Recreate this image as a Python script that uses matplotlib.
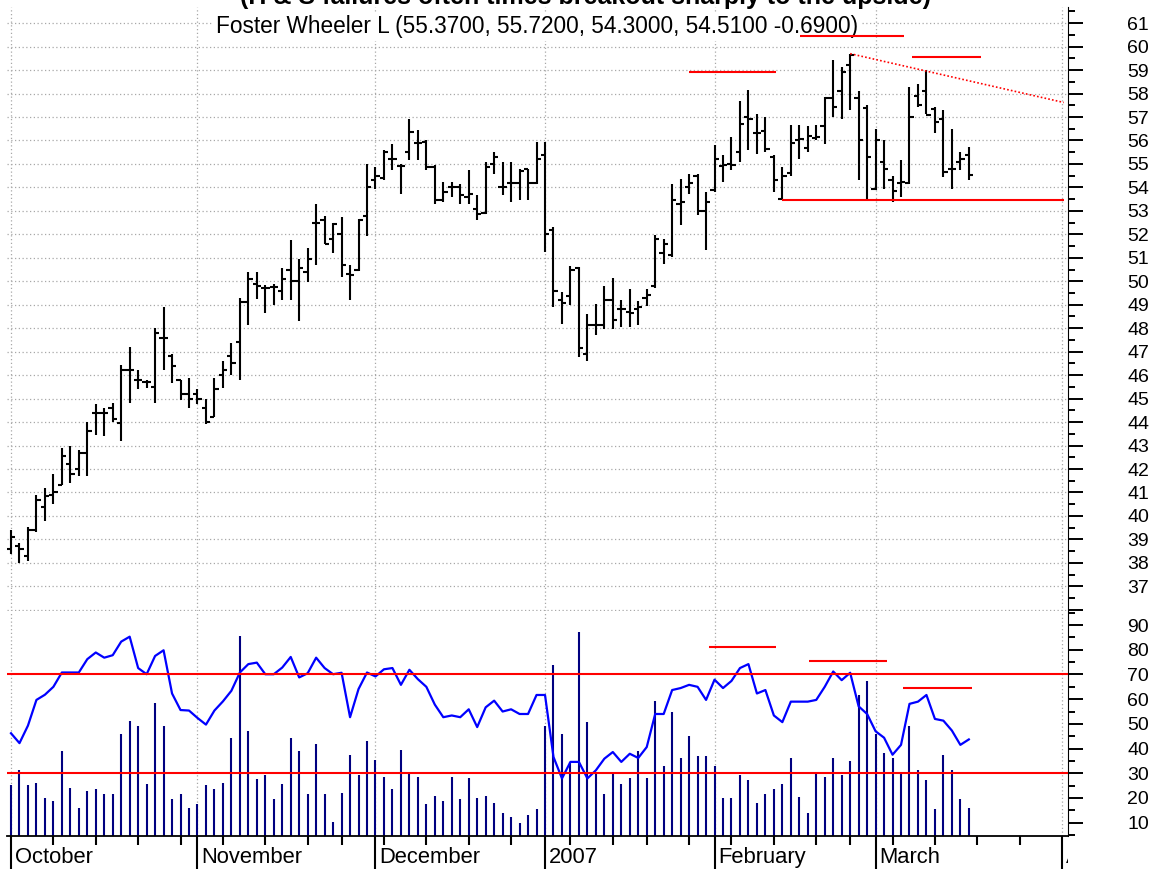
import numpy as np
import pandas as pd
import matplotlib
matplotlib.use("Agg")
import matplotlib.pyplot as plt
from matplotlib.collections import LineCollection
from matplotlib.transforms import (blended_transform_factory, ScaledTranslation,
                                   Bbox, TransformedBbox)
from matplotlib.ticker import FixedLocator, FuncFormatter

plt.rcParams['font.family'] = ['Liberation Sans', 'DejaVu Sans']

# ---------------- data ----------------
title = "(H & S failures often times breakout sharply to the upside)"
subtitle = "Foster Wheeler L (55.3700, 55.7200, 54.3000, 54.5100 -0.6900)"

start_date = "2006-10-02"
end_date = "2007-04-30"
holidays = ["2006-11-23", "2006-12-25", "2007-01-01", "2007-01-02",
            "2007-01-15", "2007-02-19"]

opens = [38.6, 38.7, 38.3, 39.4, 40.4, 40.9, 41.3, 42.2, 42.0, 42.7,
         44.4, 44.4, 44.6, 43.95, 46.2, 45.8, 45.7, 45.5, 47.6, 46.8,
         45.8, 45.2, 45.2, 44.6, 44.2, 46.0, 46.8, 47.4, 49.1, 49.9,
         49.7, 49.75, 49.6, 50.5, 50.0, 50.4, 52.5, 52.6, 51.8, 52.0,
         50.3, 50.5, 52.8, 54.3, 54.4, 55.2, 54.9, 55.5, 55.9, 55.93,
         54.87, 53.45, 54.0, 54.0, 53.6, 53.1, 52.9, 55.0, 54.0, 54.2,
         54.2, 54.8, 54.2, 55.4, 52.2, 49.2, 49.38, 50.55, 46.9, 48.15,
         48.15, 49.2, 48.8, 48.7, 48.8, 49.3, 49.8, 51.2, 51.1, 53.3,
         54.0, 54.5, 53.0, 53.9, 54.9, 55.0, 55.5, 57.0, 56.3, 56.4,
         55.3, 53.5, 54.6, 56.0, 55.7, 56.1, 56.6, 57.8, 58.1, 59.2,
         57.8, 57.4, 53.95, 55.1, 54.3, 54.2, 54.2, 57.9, 58.1, 57.35,
         56.93, 54.8, 55.1, 55.37]
highs = [39.4, 38.85, 39.55, 40.9, 41.2, 41.8, 42.9, 43.0, 42.8, 44.0,
         44.75, 44.6, 44.8, 46.45, 47.2, 46.2, 45.8, 48.0, 48.9, 46.9,
         45.8, 45.9, 45.4, 45.0, 45.9, 46.6, 47.35, 49.3, 50.4, 50.4,
         49.85, 49.9, 50.55, 51.75, 50.95, 51.4, 53.3, 52.8, 52.5, 52.75,
         50.7, 52.65, 55.0, 54.85, 55.6, 55.85, 55.0, 56.93, 56.45, 56.0,
         54.94, 54.23, 54.23, 54.16, 54.73, 53.66, 55.08, 55.51, 55.08, 55.08,
         54.8, 54.8, 55.93, 55.93, 52.3, 49.54, 50.67, 50.6, 48.6, 49.05,
         49.8, 50.14, 49.19, 49.66, 49.15, 49.68, 51.96, 51.82, 54.16, 54.37,
         54.58, 54.58, 53.8, 55.79, 55.37, 56.15, 57.7, 58.15, 57.14, 57.0,
         55.37, 54.87, 56.64, 56.64, 56.6, 56.64, 57.85, 59.41, 59.13, 59.7,
         58.13, 57.5, 56.5, 56.0, 54.5, 55.15, 58.28, 58.42, 58.99, 57.42,
         57.28, 56.5, 55.5, 55.72]
lows = [38.4, 38.0, 38.1, 39.3, 39.8, 40.5, 41.3, 41.4, 41.7, 41.7,
        43.45, 43.4, 44.0, 43.2, 44.8, 45.4, 45.45, 44.8, 46.2, 45.65,
        44.95, 44.6, 44.75, 43.9, 44.2, 45.45, 46.0, 45.8, 48.15, 49.25,
        48.65, 49.0, 49.2, 49.2, 48.3, 49.95, 50.7, 51.6, 51.2, 50.2,
        49.2, 50.45, 51.95, 53.95, 54.3, 54.75, 53.7, 55.15, 55.15, 54.73,
        53.31, 53.38, 53.59, 53.31, 53.31, 52.6, 52.88, 54.58, 53.66, 53.38,
        53.45, 53.45, 54.16, 51.25, 48.9, 48.17, 48.97, 46.76, 46.6, 47.7,
        47.98, 47.95, 48.05, 48.05, 48.15, 48.94, 49.73, 50.75, 51.03, 52.38,
        53.73, 52.81, 51.32, 53.8, 54.23, 54.73, 55.1, 55.6, 55.44, 55.5,
        53.8, 53.45, 54.5, 55.22, 55.5, 56.0, 55.86, 57.0, 56.93, 57.28,
        54.3, 53.48, 53.9, 53.95, 53.38, 53.59, 54.16, 57.42, 57.14, 56.32,
        54.44, 53.95, 54.73, 54.30]
closes = [39.1, 38.6, 39.4, 40.7, 40.85, 41.0, 42.55, 41.8, 42.7, 43.6,
          44.4, 44.4, 44.15, 46.2, 46.2, 45.8, 45.7, 47.8, 47.6, 46.4,
          45.2, 45.0, 45.0, 44.0, 45.4, 46.2, 46.5, 49.1, 50.1, 49.8,
          49.7, 49.75, 50.1, 50.0, 50.55, 50.95, 52.5, 51.6, 52.45, 50.7,
          50.25, 52.6, 54.0, 54.5, 55.5, 55.2, 54.9, 56.36, 55.9, 54.87,
          53.48, 53.8, 54.0, 53.66, 53.73, 52.88, 54.87, 55.3, 54.0, 54.2,
          54.7, 54.2, 55.2, 52.0, 49.6, 49.06, 50.46, 47.15, 48.15, 48.15,
          49.2, 48.36, 48.8, 48.65, 48.9, 49.43, 51.8, 51.6, 53.48, 53.4,
          54.2, 53.0, 53.38, 55.2, 54.95, 54.95, 56.7, 56.9, 56.3, 55.65,
          54.3, 54.5, 55.9, 56.07, 56.2, 56.15, 57.8, 57.42, 58.9, 59.63,
          56.0, 55.3, 56.0, 54.8, 53.85, 54.23, 57.0, 57.5, 57.07, 56.78,
          54.66, 54.8, 55.2, 54.51]

indicator = [46.2, 42.2, 49.3, 59.7, 61.8, 65.0, 70.8, 70.8, 70.8, 76.2,
             78.9, 76.8, 77.8, 83.3, 85.3, 72.6, 70.1, 77.5, 79.8, 62.3,
             55.6, 55.4, 52.4, 49.7, 55.4, 59.1, 63.4, 70.8, 74.2, 74.8,
             70.1, 70.1, 72.8, 77.1, 68.8, 70.5, 76.8, 72.6, 70.1, 70.7,
             52.7, 64.1, 70.8, 69.2, 72.1, 72.6, 65.8, 71.9, 68.1, 65.0,
             57.8, 52.7, 53.4, 52.7, 55.9, 48.7, 56.7, 59.4, 55.0, 55.9,
             54.0, 54.0, 61.7, 61.7, 36.6, 27.9, 34.6, 34.6, 27.9, 31.2,
             35.9, 38.6, 34.6, 37.9, 36.2, 40.6, 54.0, 54.0, 63.7, 64.5,
             65.8, 65.0, 59.7, 67.9, 64.5, 67.4, 72.6, 74.2, 62.3, 63.7,
             53.4, 50.7, 59.0, 59.0, 59.0, 59.7, 65.0, 71.2, 67.7, 70.7,
             57.1, 54.0, 47.0, 44.4, 37.5, 41.5, 58.1, 59.0, 61.7, 52.0,
             51.3, 47.3, 41.5, 43.7]

volume = [25.2, 31.2, 25.2, 26.2, 20.1, 18.7, 38.9, 24.2, 16.0, 22.9,
          23.6, 21.5, 21.5, 46.0, 51.3, 49.3, 25.8, 58.3, 49.3, 19.4,
          21.5, 16.0, 17.4, 25.2, 23.6, 26.2, 44.4, 85.6, 47.3, 27.6,
          29.2, 19.4, 25.8, 44.4, 38.9, 21.5, 41.7, 21.5, 10.4, 22.1,
          37.5, 29.2, 43.0, 35.2, 28.5, 23.6, 39.5, 29.9, 28.5, 17.4,
          20.9, 18.9, 28.5, 19.5, 27.9, 20.1, 20.9, 18.1, 14.0, 12.4,
          9.7, 13.1, 15.4, 49.3, 73.8, 46.0, 34.6, 87.3, 50.7, 30.5,
          21.5, 30.5, 25.8, 27.9, 38.9, 27.9, 59.1, 32.8, 55.0, 36.3,
          45.2, 36.8, 36.8, 32.8, 20.1, 20.1, 29.2, 27.2, 18.1, 21.5,
          23.6, 25.8, 36.2, 20.2, 14.0, 29.9, 28.5, 36.2, 29.2, 34.8,
          61.8, 67.4, 45.7, 38.2, 36.2, 29.9, 49.3, 31.2, 27.2, 15.4,
          37.5, 31.2, 19.5, 16.0]

# annotation lines (start bar, end bar, level)
price_marks = [(80.0, 90.2, 58.9), (93.1, 105.3, 60.45), (106.3, 114.4, 59.55)]
neckline = (91.0, 124.2, 53.47)
trend_start = (99.0, 59.7)
trend_end = (124.2, 57.62)
osc_marks = [(82.3, 90.2, 81.1), (94.2, 103.3, 75.5), (105.2, 113.4, 64.5)]
osc_levels = [70, 30]

# ---------------- calendar ----------------
bdays = pd.bdate_range(start_date, end_date)
days = bdays[~bdays.isin(pd.to_datetime(holidays))]
n = len(closes)
idx = np.arange(n)
xmin, xmax = -0.472, 124.7

month_idx, month_lbl, week_idx = [], [], []
for i, d in enumerate(days):
    if i > xmax:
        break
    if i == 0 or d.month != days[i - 1].month:
        month_idx.append(i)
        month_lbl.append(str(d.year) if d.month == 1 else d.strftime("%B"))
    elif d.isocalendar()[1] != days[i - 1].isocalendar()[1]:
        week_idx.append(i)

# ---------------- figure ----------------
W, H = 1166, 869
fig = plt.figure(figsize=(W / 100, H / 100), dpi=100)
left_px, right_px = 7, 1068
ax1 = fig.add_axes([left_px / W, 1 - 611 / H, (right_px - left_px) / W, (611 - 6.5) / H])
ax2 = fig.add_axes([left_px / W, 1 - 836 / H, (right_px - left_px) / W, (836 - 611) / H])

grid_kw = dict(color='#a8a8a8', linestyle=(0, (1, 2)), linewidth=0.9)

# --- price panel ---
seg_v = [[(i, lows[i]), (i, highs[i])] for i in idx]
seg_o = [[(i - 0.5, opens[i]), (i, opens[i])] for i in idx]
seg_c = [[(i, closes[i]), (i + 0.5, closes[i])] for i in idx]
lc = LineCollection(seg_v + seg_o + seg_c, colors='black', linewidths=1.5,
                    capstyle='butt', zorder=3)
ax1.add_collection(lc)

for x0, x1, lvl in price_marks:
    ax1.hlines(lvl, x0, x1, colors='red', linewidth=1.5, zorder=4)
ax1.hlines(neckline[2], neckline[0], neckline[1], colors='red', linewidth=1.5, zorder=4)
ax1.plot([trend_start[0], trend_end[0]], [trend_start[1], trend_end[1]],
         color='red', linewidth=1.2, linestyle=(0, (1, 1.3)), zorder=4)

ax1.set_xlim(xmin, xmax)
ax1.set_ylim(35.95, 61.71)
ax1.yaxis.tick_right()
ax1.yaxis.set_major_locator(FixedLocator(np.arange(36, 62)))
ax1.yaxis.set_minor_locator(FixedLocator(np.arange(36.5, 62, 1.0)))
ax1.yaxis.set_major_formatter(FuncFormatter(lambda v, p: "" if v < 36.5 else f"{v:.0f}"))
ax1.tick_params(axis='y', which='major', direction='out', length=10.8, width=1.4,
                pad=32, labelsize=14, colors='black')
ax1.tick_params(axis='y', which='minor', direction='out', length=5, width=1.4)
ax1.set_xticks(month_idx)
ax1.tick_params(axis='x', length=0, labelbottom=False)
ax1.grid(True, which='major', **grid_kw)
for s in ['top', 'left', 'bottom']:
    ax1.spines[s].set_visible(False)
ax1.spines['right'].set_linewidth(0.8)

# subtitle on a white box, drawn beneath the red marks
ax1.text(537 / W, 1 - 33 / H, subtitle, transform=fig.transFigure, ha='center',
         va='baseline', fontsize=16.3, color='black', zorder=3.5, clip_on=False,
         bbox=dict(facecolor='white', edgecolor='none', pad=2))

# --- oscillator / volume panel ---
ylo2, yhi2 = 4.6, 95.7
ax2.vlines(idx, ylo2, volume, colors='#000080', linewidth=1.5, zorder=2)
ax2.plot(idx, indicator, color='#0000ff', linewidth=1.6, zorder=3)
for lvl in osc_levels:
    ax2.axhline(lvl, color='red', linewidth=1.5, zorder=4)
for x0, x1, lvl in osc_marks:
    ax2.hlines(lvl, x0, x1, colors='red', linewidth=1.5, zorder=4)

ax2.set_xlim(xmin, xmax)
ax2.set_ylim(ylo2, yhi2)
ax2.yaxis.tick_right()
ax2.yaxis.set_major_locator(FixedLocator(np.arange(10, 91, 10)))
ax2.yaxis.set_minor_locator(FixedLocator(np.arange(5, 96, 10)))
ax2.tick_params(axis='y', which='major', direction='out', length=10.8, width=1.4,
                pad=32, labelsize=14, colors='black')
ax2.tick_params(axis='y', which='minor', direction='out', length=5, width=1.4)
ax2.xaxis.set_major_locator(FixedLocator(month_idx))
ax2.xaxis.set_minor_locator(FixedLocator(week_idx))
ax2.tick_params(axis='x', which='major', direction='out', length=26, width=1.5,
                labelbottom=False)
ax2.tick_params(axis='x', which='minor', direction='out', length=6.5, width=1.5)
ax2.grid(True, axis='x', which='major', **grid_kw)
for s in ['top', 'left']:
    ax2.spines[s].set_visible(False)
ax2.spines['right'].set_linewidth(0.8)
ax2.spines['bottom'].set_linewidth(1.3)

trans = blended_transform_factory(ax2.transData, ax2.transAxes)
off = ScaledTranslation(4 / 100, -27 / 100, fig.dpi_scale_trans)
clipbox = TransformedBbox(Bbox([[0, -1], [1, 1]]), ax2.transAxes)
for mi, ml in zip(month_idx, month_lbl):
    t = ax2.text(mi, 0, ml, transform=trans + off, ha='left', va='baseline',
                 fontsize=15.8, color='black')
    t.set_clip_box(clipbox)
    t.set_clip_on(True)

# --- title (cut off at the top edge, as in the source image) ---
fig.text(586 / W, 1 - 4 / H, title, ha='center', va='baseline', fontsize=18,
         fontweight='bold', color='black')

fig.savefig("out.png", dpi=100)
